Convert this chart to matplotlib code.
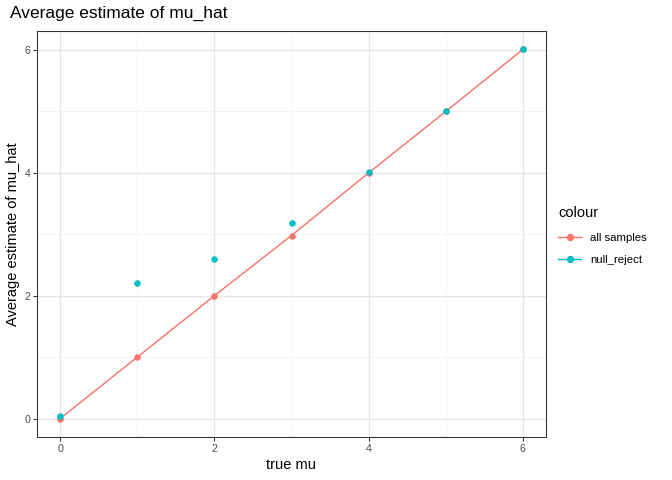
import matplotlib.pyplot as plt
from matplotlib.lines import Line2D

plt.rcParams['font.family'] = ['Liberation Sans', 'DejaVu Sans']

true_mu = [0, 1, 2, 3, 4, 5, 6]
all_samples = [0.00, 1.00, 2.00, 2.98, 4.00, 5.00, 6.01]
null_reject = [0.05, 2.21, 2.60, 3.19, 4.01, 5.01, 6.01]

red = '#F8766D'
teal = '#00BFC4'

fig = plt.figure(figsize=(7, 5), dpi=96)
ax = fig.add_axes([37/672, 1 - 437/480, (546-37)/672, (437-31)/480])

ax.plot(true_mu, all_samples, color=red, linewidth=1.1, zorder=3)
ax.scatter(true_mu, all_samples, color=red, s=24, zorder=4, linewidths=0)
ax.scatter(true_mu, null_reject, color=teal, s=24, zorder=5, linewidths=0)

ax.set_xlim(-0.3, 6.3)
ax.set_ylim(-0.3, 6.31)
ax.set_xticks([0, 2, 4, 6])
ax.set_yticks([0, 2, 4, 6])
ax.set_xticks([1, 3, 5], minor=True)
ax.set_yticks([1, 3, 5], minor=True)
ax.grid(True, which='major', color='#E5E5E5', linewidth=1.0)
ax.grid(True, which='minor', color='#F0F0F0', linewidth=0.6)
ax.set_axisbelow(True)
for s in ax.spines.values():
    s.set_color('#333333')
    s.set_linewidth(0.8)
ax.tick_params(which='major', length=3, color='#333333', labelsize=8, labelcolor='#4D4D4D', pad=2)
ax.tick_params(which='minor', length=0)

ax.set_xlabel('true mu', fontsize=11, labelpad=3)
ax.set_ylabel('Average estimate of mu_hat', fontsize=11, labelpad=3)
fig.text(10/672, 1 - 13/480, 'Average estimate of mu_hat', fontsize=13, va='center', ha='left')

handles = [Line2D([], [], color=red, marker='o', markersize=4.5, linewidth=1.1),
           Line2D([], [], color=teal, marker='o', markersize=4.5, linewidth=1.1)]
leg = fig.legend(handles, ['all samples', 'null_reject'], title='colour',
                 loc='upper left', bbox_to_anchor=(548/672, 1 - 196/480),
                 frameon=False, fontsize=8.5, title_fontsize=11,
                 handlelength=2.0, labelspacing=1.1)
leg._legend_box.align = 'left'

fig.savefig('out.png', dpi=96)
